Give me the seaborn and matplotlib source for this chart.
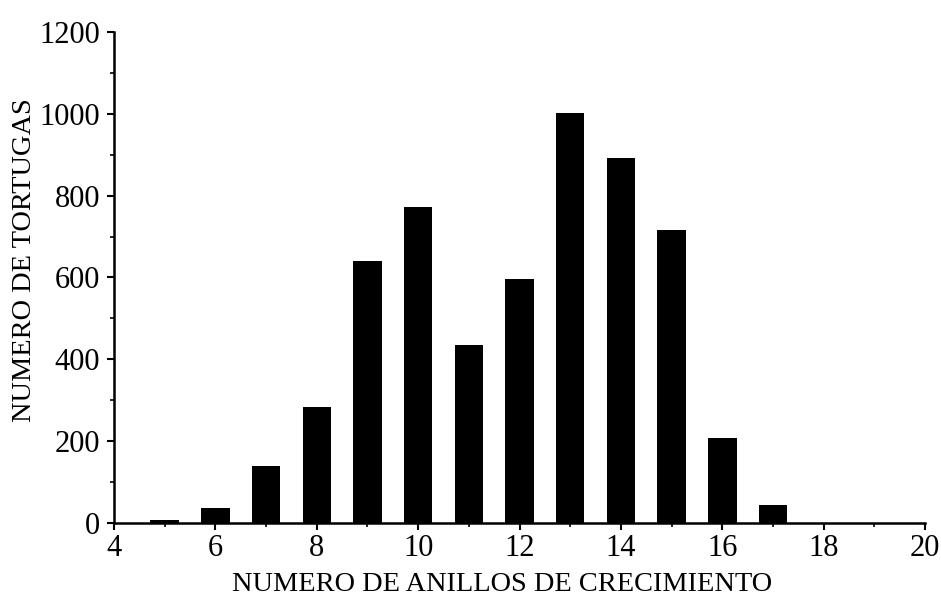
import matplotlib
matplotlib.use("Agg")
import matplotlib.pyplot as plt
from matplotlib.ticker import MultipleLocator
import seaborn as sns
import pandas as pd

# Growth-ring counts and number of turtles observed for each count
rings = [5, 6, 7, 8, 9, 10, 11, 12, 13, 14, 15, 16, 17]
turtles = [8, 37, 139, 283, 640, 772, 435, 597, 1002, 892, 716, 207, 44]

x_ticks = [4, 6, 8, 10, 12, 14, 16, 18, 20]
y_ticks = [0, 200, 400, 600, 800, 1000, 1200]

sns.set_theme(style="ticks")
plt.rcParams["font.family"] = ["Liberation Serif", "DejaVu Serif"]
plt.rcParams["text.color"] = "black"
plt.rcParams["axes.labelcolor"] = "black"
plt.rcParams["xtick.color"] = "black"
plt.rcParams["ytick.color"] = "black"

df = pd.DataFrame({"anillos": rings, "tortugas": turtles})

fig = plt.figure(figsize=(9.41, 6.01), dpi=100)
ax = fig.add_axes([0.1211, 0.1298, 0.862, 0.817])

sns.barplot(data=df, x="anillos", y="tortugas", native_scale=True,
            color="black", width=0.56, errorbar=None, saturation=1,
            edgecolor="black", linewidth=0, ax=ax)

ax.set_xlim(4, 20)
ax.set_ylim(0, 1200)
ax.set_xticks(x_ticks)
ax.set_xticklabels([str(v) for v in x_ticks])
ax.set_yticks(y_ticks)
ax.set_yticklabels([str(v) for v in y_ticks])
ax.xaxis.set_minor_locator(MultipleLocator(1))
ax.yaxis.set_minor_locator(MultipleLocator(100))

for side in ("top", "right"):
    ax.spines[side].set_visible(False)
for side in ("left", "bottom"):
    ax.spines[side].set_linewidth(1.8)
    ax.spines[side].set_color("black")

ax.tick_params(axis="both", which="major", direction="out", length=5,
               width=1.5, colors="black", labelcolor="black", labelsize=22)
ax.tick_params(axis="x", which="major", pad=3)
ax.tick_params(axis="y", which="major", pad=5)
ax.tick_params(axis="both", which="minor", direction="out", length=3,
               width=1.2, colors="black")

ax.set_xlabel("NUMERO DE ANILLOS DE CRECIMIENTO", fontsize=20.4, color="black")
ax.set_ylabel("NUMERO DE TORTUGAS", fontsize=20.4, color="black")
ax.xaxis.set_label_coords(0.478, -0.10)
ax.yaxis.set_label_coords(-0.095, 0.536)

fig.savefig("out.png", dpi=100, facecolor="white")
